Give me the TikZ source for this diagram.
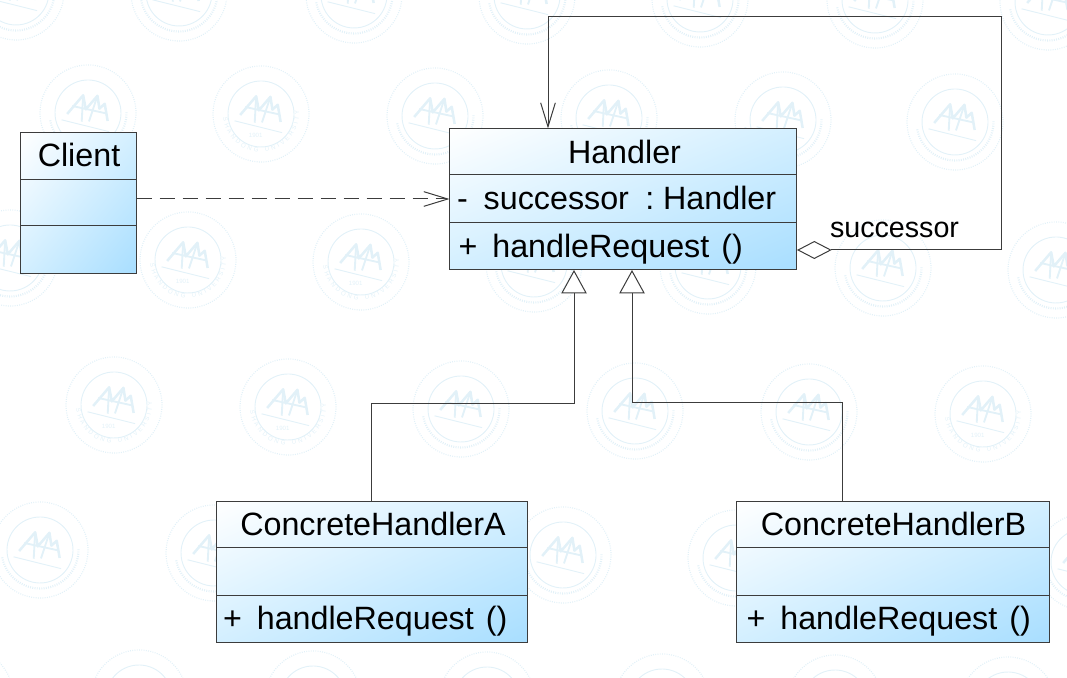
\documentclass[tikz,border=0pt]{standalone}
\usepackage{fontspec}
\setmainfont{Liberation Sans}
\usetikzlibrary{arrows.meta,decorations.text,shadings}
\definecolor{sealblue}{HTML}{E2F1F8}
\definecolor{umlline}{HTML}{3C3C3C}
\definecolor{umlblue}{HTML}{A8DEFF}
\definecolor{umlmid}{HTML}{D3EFFF}
\newcommand{\sealfont}{\fontsize{4.6}{5}\selectfont\color{sealblue}}
\tikzset{
    classbox/.style={draw=umlline, line width=0.75pt, shade, outer sep=0pt, inner sep=0pt,
        upper left=white, upper right=umlmid, lower left=umlmid, lower right=umlblue},
    divider/.style={draw=umlline, line width=0.75pt},
    umltext/.style={inner sep=0pt, outer sep=0pt, font=\fontsize{24.2}{29}\selectfont},
    rolelabel/.style={inner sep=0pt, outer sep=0pt, anchor=base west, font=\fontsize{21.5}{26}\selectfont},
    connector/.style={draw=umlline, line width=0.75pt},
    dependency/.style={connector, dash pattern=on 11.25pt off 6pt, -{Straight Barb[length=18pt, width=11pt]}},
    selfassoc/.style={connector, {Diamond[open, length=26pt, width=13.5pt]}-{Straight Barb[length=18pt, width=11pt]}},
    generalize/.style={connector, -{Triangle[open, fill=white, length=17.5pt, width=19pt]}},
    sealring/.style={draw=sealblue, line width=0.7pt},
    seal/.pic={
        \draw[sealring, densely dotted, line width=0.9pt] (0, 0) circle (48);
        \draw[sealring] (0, 0) circle (33);
        \draw[sealring, line width=1.9pt, line join=round] (-20, -6) -- (-9, 16) -- (-3, 3) -- (5, 19) -- (10, 7) -- (14, 13) -- (21, -3);
        \draw[sealring, line width=1.4pt] (-9, 16) -- (-4, -10) (5, 19) -- (3, -8) (-17, 3) -- (17, 4);
        \draw[sealring] (-24, -13) -- (25, -13);
    },
    sealband/.pic={
        \draw[sealring, densely dotted, line width=1.6pt] (205:38.5) arc[start angle=205, end angle=375, radius=38.5];
    },
    sealwords/.pic={
        \node[inner sep=0pt] (sealyear) at (0, -22) {\sealfont 1901};
        \path[decorate, decoration={text along path, text align={fit to path}, text={|\sealfont|SHANDONG UNIVERSITY}}]
            (200:38) arc[start angle=200, end angle=380, radius=38];
    }
}
\begin{document}
\begin{tikzpicture}[x=0.75pt, y=0.75pt]
    \useasboundingbox (0, 0) rectangle (1067, 678);
    \begin{scope}
        \clip (0, 0) rectangle (1067, 678);
        \foreach \sealx/\sealy in {16/-8, 179/-7, 354/-5, 527/-4, 700/-1, 875/0, 1048/2,
                88/113, 435/116, 609/118, 783/120, 955/122,
                10/258, 534/264, 708/266, 883/268, 1056/270,
                461/409, 635/411, 809/412,
                40/550, 214/553, 388/555, 563/555, 736/558, 910/560, 1084/562,
                -35/696, 139/698, 313/699, 487/700, 662/702, 835/703, 1008/705}{
            \pic[rotate=-14] at (\sealx, 678-\sealy) {seal};
            \pic[rotate=-14] at (\sealx, 678-\sealy) {sealband};
        }
        \foreach \sealx/\sealy in {261/114, 188/260, 361/262, 114/405, 288/407, 983/414}{
            \pic[rotate=-14] at (\sealx, 678-\sealy) {seal};
            \pic[rotate=-14] at (\sealx, 678-\sealy) {sealwords};
        }
    \end{scope}

    \node[classbox, minimum width=87pt, minimum height=105.4pt] (client) at (78.5, 475) {};
    \node[classbox, minimum width=260.6pt, minimum height=106.1pt] (handler) at (623.25, 478.75) {};
    \node[classbox, minimum width=233pt, minimum height=106.1pt] (cha) at (371.75, 106.25) {};
    \node[classbox, minimum width=235.1pt, minimum height=106.1pt] (chb) at (893.25, 106.25) {};

    \draw[divider] (client.west |- 0, 498.5) -- (client.east |- 0, 498.5);
    \draw[divider] (client.west |- 0, 452) -- (client.east |- 0, 452);
    \draw[divider] (handler.west |- 0, 503) -- (handler.east |- 0, 503);
    \draw[divider] (handler.west |- 0, 455) -- (handler.east |- 0, 455);
    \draw[divider] (cha.west |- 0, 130) -- (cha.east |- 0, 130);
    \draw[divider] (cha.west |- 0, 82.5) -- (cha.east |- 0, 82.5);
    \draw[divider] (chb.west |- 0, 130) -- (chb.east |- 0, 130);
    \draw[divider] (chb.west |- 0, 82.5) -- (chb.east |- 0, 82.5);

    \node[umltext, anchor=base] (clientname) at (79, 511) {Client};
    \node[umltext, anchor=base] (handlername) at (624.5, 514) {Handler};
    \node[umltext, anchor=base west] (handlerattr) at (457, 468) {-\hspace{12pt}successor\hspace{12.25pt}:\hspace{6.7pt}Handler};
    \node[umltext, anchor=base west] (handlerop) at (458.5, 420) {+\hspace{11.25pt}handleRequest\hspace{9pt}()};
    \node[umltext, anchor=base] (chaname) at (373, 142) {ConcreteHandlerA};
    \node[umltext, anchor=base west] (chaop) at (223, 48) {+\hspace{11.25pt}handleRequest\hspace{9pt}()};
    \node[umltext, anchor=base] (chbname) at (893.5, 142) {ConcreteHandlerB};
    \node[umltext, anchor=base west] (chbop) at (746.5, 48) {+\hspace{11.25pt}handleRequest\hspace{9pt}()};
    \node[rolelabel] (role) at (830, 440) {successor};

    \draw[dependency] (client.east |- 0, 479) -- (handler.west |- 0, 479);
    \draw[selfassoc] (handler.east |- 0, 428) -| (1001, 661) -| (handler.north -| 548, 0);
    \draw[generalize] (cha.north) |- (574, 274) -- (handler.south -| 574, 0);
    \draw[generalize] (chb.north -| 842, 0) |- (632, 275) -- (handler.south -| 632, 0);
\end{tikzpicture}
\end{document}
